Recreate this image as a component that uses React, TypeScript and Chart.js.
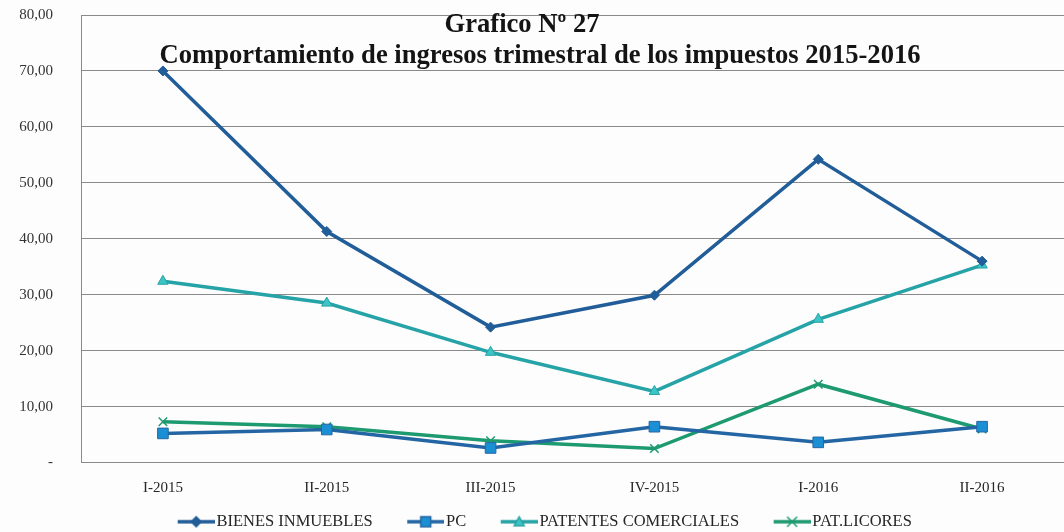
import React, { useEffect, useRef } from 'react';
import { Chart, registerables } from 'chart.js';

Chart.register(...registerables);

const categories = ['I-2015', 'II-2015', 'III-2015', 'IV-2015', 'I-2016', 'II-2016'];
const bienesInmuebles = [70.0, 41.3, 24.2, 29.9, 54.2, 36.0];
const pc = [5.2, 5.9, 2.6, 6.4, 3.6, 6.4];
const patentesComerciales = [32.4, 28.5, 19.7, 12.7, 25.6, 35.3];
const patLicores = [7.3, 6.4, 3.9, 2.5, 14.0, 6.0];
const seriesNames = ['BIENES INMUEBLES', 'PC', 'PATENTES COMERCIALES', 'PAT.LICORES'];
const titleLines = ['Grafico Nº 27', 'Comportamiento de ingresos trimestral de los impuestos 2015-2016'];
const yMin = 0;
const yMax = 80;
const yStep = 10;

const SERIF = '"Liberation Serif", "DejaVu Serif", serif';

const styles = [
  { line: '#215D98', fill: '#215D98', point: 'rectRot', radius: 5 },
  { line: '#2466A3', fill: '#1A8FD3', point: 'rect', radius: 7.5 },
  { line: '#26A3A6', fill: '#3CC4C6', point: 'triangle', radius: 6 },
  { line: '#1E9A70', fill: '#1E9A70', point: 'crossRot', radius: 6 },
];

// legend icon: transparent left part, visible 37px line with marker at the right
const ICON_W = 57;
const ICON_LINE = 37;

function makeIcon(s: any): HTMLCanvasElement {
  const c = document.createElement('canvas');
  c.width = ICON_W;
  c.height = 16;
  const ctx = c.getContext('2d')!;
  const x0 = ICON_W - ICON_LINE;
  ctx.strokeStyle = s.line;
  ctx.lineWidth = 3.5;
  ctx.beginPath();
  ctx.moveTo(x0, 8);
  ctx.lineTo(ICON_W, 8);
  ctx.stroke();
  const cx = x0 + ICON_LINE / 2, cy = 8;
  ctx.fillStyle = s.fill;
  ctx.strokeStyle = s.line;
  ctx.lineWidth = 1.5;
  if (s.point === 'rectRot') {
    ctx.beginPath();
    ctx.moveTo(cx, cy - 5); ctx.lineTo(cx + 5, cy); ctx.lineTo(cx, cy + 5); ctx.lineTo(cx - 5, cy); ctx.closePath();
    ctx.fill(); ctx.stroke();
  } else if (s.point === 'rect') {
    ctx.fillRect(cx - 5, cy - 5, 10, 10); ctx.strokeRect(cx - 5, cy - 5, 10, 10);
  } else if (s.point === 'triangle') {
    ctx.beginPath();
    ctx.moveTo(cx, cy - 5); ctx.lineTo(cx + 5, cy + 4); ctx.lineTo(cx - 5, cy + 4); ctx.closePath();
    ctx.fill(); ctx.stroke();
  } else {
    ctx.lineWidth = 1.5;
    ctx.beginPath();
    ctx.moveTo(cx - 5, cy - 5); ctx.lineTo(cx + 5, cy + 5);
    ctx.moveTo(cx + 5, cy - 5); ctx.lineTo(cx - 5, cy + 5);
    ctx.stroke();
  }
  return c;
}

const insideTitle = {
  id: 'insideTitle',
  afterDraw(chart: any) {
    const { ctx } = chart;
    ctx.save();
    ctx.fillStyle = '#141414';
    ctx.textAlign = 'center';
    ctx.textBaseline = 'alphabetic';
    ctx.font = `bold 20px ${SERIF}`;
    const w = ctx.measureText(titleLines[1]).width;
    const size = Math.round((20 * 760) / w * 10) / 10;
    ctx.font = `bold ${size}px ${SERIF}`;
    ctx.fillText(titleLines[0], 522, 32);
    ctx.fillText(titleLines[1], 540, 63);
    ctx.restore();
  },
};

const legendShift = {
  id: 'legendShift',
  afterLayout(chart: any) {
    const lg = chart.legend;
    if (lg) {
      lg.left += 6;
      lg.right += 6;
    }
  },
};

export default function App() {
  const ref = useRef<HTMLCanvasElement>(null);

  useEffect(() => {
    if (!ref.current) return;
    const values = [bienesInmuebles, pc, patentesComerciales, patLicores];
    const icons = styles.map(makeIcon);
    const chart = new Chart(ref.current, {
      type: 'line',
      data: {
        labels: categories,
        datasets: values.map((v, i) => ({
          label: seriesNames[i],
          data: v,
          borderColor: styles[i].line,
          backgroundColor: styles[i].fill,
          pointBackgroundColor: styles[i].fill,
          pointBorderColor: styles[i].line,
          pointStyle: styles[i].point as any,
          pointRadius: styles[i].radius,
          pointBorderWidth: styles[i].point === 'crossRot' ? 1.5 : 1,
          borderWidth: 3.5,
          tension: 0,
          fill: false,
        })),
      },
      options: {
        animation: false,
        responsive: true,
        maintainAspectRatio: false,
        layout: { autoPadding: false, padding: { left: 0, right: 0, top: 15, bottom: -8 } },
        scales: {
          x: {
            offset: true,
            grid: { display: false },
            border: { display: true, color: '#8a8a8a', width: 1 },
            ticks: { color: '#262626', font: { family: SERIF, size: 15 }, padding: 9 },
            afterFit: (s: any) => { s.height = 30; },
          },
          y: {
            min: yMin,
            max: yMax,
            ticks: {
              stepSize: yStep,
              color: '#333333',
              font: { family: SERIF, size: 15 },
              padding: 0,
              callback: (v: any) => (Number(v) === 0 ? '-' : Number(v).toFixed(2).replace('.', ',')),
            },
            grid: { color: '#8a8a8a', lineWidth: 1, drawTicks: true, tickLength: 28, tickColor: 'rgba(0,0,0,0)' },
            border: { display: true, color: '#8a8a8a', width: 1 },
            afterFit: (s: any) => { s.width = 81; },
          },
        },
        plugins: {
          title: { display: false },
          tooltip: { enabled: false },
          legend: {
            position: 'bottom',
            labels: {
              usePointStyle: true,
              pointStyleWidth: 44,
              padding: 21,
              color: '#262626',
              font: { family: SERIF, size: 16.5 },
              generateLabels: (c: any) => {
                const items = Chart.defaults.plugins.legend.labels.generateLabels(c);
                return items.map((it: any, i: number) => ({ ...it, pointStyle: icons[i] }));
              },
            },
          },
        },
      },
      plugins: [insideTitle, legendShift],
    });
    return () => chart.destroy();
  }, []);

  return (
    <div style={{ position: 'fixed', left: 0, top: 0, width: 1064, height: 532, background: '#fdfdfd' }}>
      <canvas ref={ref} />
    </div>
  );
}
